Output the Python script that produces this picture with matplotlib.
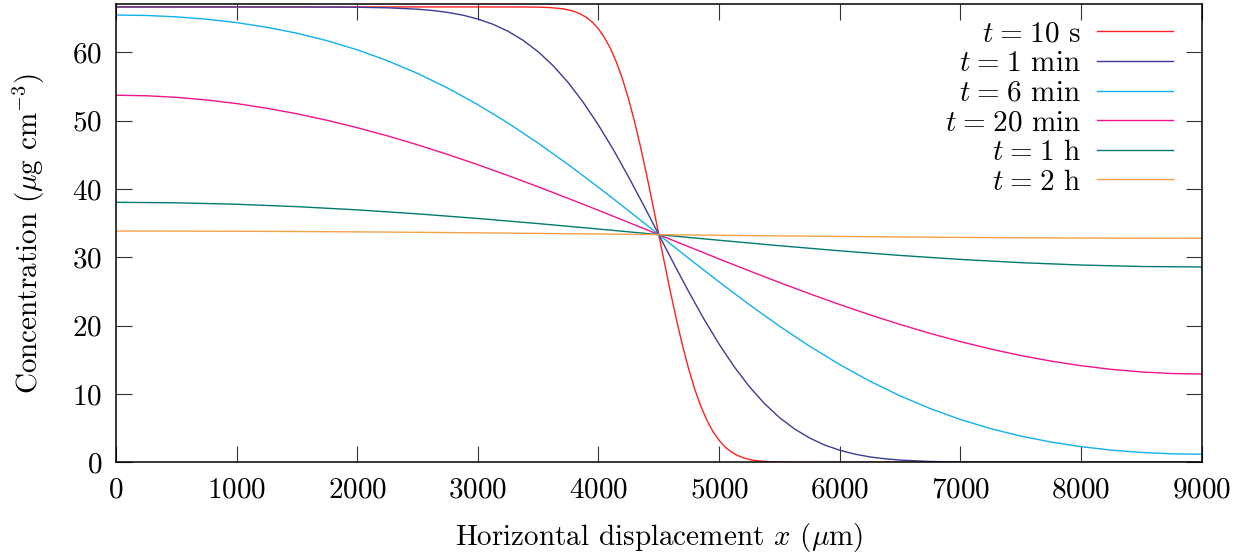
import numpy as np
import matplotlib
matplotlib.use('Agg')
import matplotlib.pyplot as plt

plt.rcParams['font.family'] = 'serif'
plt.rcParams['font.serif'] = ['cmr10']
plt.rcParams['mathtext.fontset'] = 'cm'
plt.rcParams['axes.formatter.use_mathtext'] = True
plt.rcParams['font.size'] = 21

# concentration profiles (ug cm^-3) across the channel, x in um
x_10s = [0, 3000, 3400, 3500, 3600, 3700, 3750, 3800, 3850, 3900, 3950, 4000, 4050, 4100,
         4150, 4200, 4250, 4300, 4350, 4400, 4450, 4500, 4550, 4600, 4650, 4700, 4750,
         4800, 4850, 4900, 4950, 5000, 5050, 5100, 5150, 5200, 5250, 5300, 5400, 5500,
         5600, 6000, 9000]
c_10s = [66.667, 66.667, 66.66, 66.638, 66.575, 66.407, 66.246, 66.005, 65.644, 65.137,
         64.423, 63.449, 62.183, 60.553, 58.517, 56.060, 53.143, 49.800, 46.073, 42.017,
         37.736, 33.333, 28.930, 24.650, 20.593, 16.867, 13.523, 10.607, 8.150, 6.114,
         4.484, 3.216, 2.243, 1.530, 1.023, 0.662, 0.421, 0.260, 0.092, 0.029, 0.008,
         0.0, 0.0]

x_1min = [0, 1000, 1500, 1750, 2000, 2250, 2500, 2625, 2750, 2875, 3000, 3125, 3250, 3375,
          3500, 3625, 3750, 3875, 4000, 4125, 4250, 4375, 4500, 4625, 4750, 4875, 5000,
          5125, 5250, 5375, 5500, 5625, 5750, 5875, 6000, 6125, 6250, 6375, 6500, 6750,
          7000, 7250, 7500, 8000, 9000]
c_1min = [66.667, 66.667, 66.663, 66.655, 66.625, 66.545, 66.34, 66.149, 65.87, 65.467,
          64.90, 64.136, 63.11, 61.777, 60.11, 58.047, 55.57, 52.666, 49.36, 45.720,
          41.76, 37.606, 33.333, 29.060, 24.91, 20.947, 17.30, 14.001, 11.10, 8.620,
          6.56, 4.889, 3.56, 2.530, 1.77, 1.200, 0.79, 0.518, 0.33, 0.122, 0.042, 0.012,
          0.004, 0.0, 0.0]

x_fine = list(range(0, 9001, 250))
c_6min = [65.488, 65.422, 65.221, 64.876, 64.373, 63.696, 62.821, 61.728, 60.393, 58.800,
          56.932, 54.784, 52.358, 49.665, 46.728, 43.579, 40.262, 36.828, 33.333,
          29.839, 26.405, 23.088, 19.939, 17.002, 14.309, 11.883, 9.735, 7.867, 6.274,
          4.939, 3.846, 2.971, 2.294, 1.791, 1.446, 1.245, 1.179]
c_20min = [53.743, 53.666, 53.436, 53.053, 52.521, 51.844, 51.026, 50.073, 48.993, 47.793,
           46.482, 45.070, 43.568, 41.986, 40.337, 38.635, 36.891, 35.119, 33.333,
           31.548, 29.776, 28.032, 26.330, 24.681, 23.099, 21.597, 20.185, 18.874,
           17.674, 16.594, 15.641, 14.823, 14.146, 13.614, 13.231, 13.001, 12.924]

x_coarse = list(range(0, 9001, 500))
c_1h = [38.067, 37.995, 37.781, 37.433, 36.959, 36.376, 35.700, 34.952, 34.155, 33.333,
        32.511, 31.714, 30.966, 30.290, 29.707, 29.233, 28.885, 28.671, 28.599]
c_2h = [33.861, 33.853, 33.829, 33.790, 33.738, 33.672, 33.597, 33.514, 33.425, 33.333,
        33.242, 33.152, 33.070, 32.995, 32.929, 32.876, 32.837, 32.813, 32.805]

fig = plt.figure(figsize=(12.52, 5.56), dpi=100)
ax = fig.add_axes([0.0927, 0.1685, 0.8670, 0.8243])

eq = r'\hspace{0.08}=\hspace{0.08}'
ax.plot(x_10s, c_10s, color='#ff2020', lw=1.0, label=r'$t' + eq + r'10$ s')
ax.plot(x_1min, c_1min, color='#3c3c98', lw=1.0, label=r'$t' + eq + r'1$ min')
ax.plot(x_fine, c_6min, color='#10b0ef', lw=1.0, label=r'$t' + eq + r'6$ min')
ax.plot(x_fine, c_20min, color='#f0148c', lw=1.0, label=r'$t' + eq + r'20$ min')
ax.plot(x_coarse, c_1h, color='#007b70', lw=1.0, label=r'$t' + eq + r'1$ h')
ax.plot(x_coarse, c_2h, color='#f8a048', lw=1.0, label=r'$t' + eq + r'2$ h')

ax.set_xlim(0, 9000)
ax.set_ylim(0, 67.1)
ax.set_xticks(np.arange(0, 9001, 1000))
ax.set_yticks(np.arange(0, 61, 10))
ax.tick_params(direction='in', length=11.5, width=0.8, color='#333333',
               top=True, right=True, pad=10)
ax.tick_params(axis='x', pad=11)
for s in ax.spines.values():
    s.set_linewidth(1.1)

ax.set_xlabel(r'Horizontal displacement $x$ ($\mu$m)', labelpad=12)
ax.set_ylabel(r'Concentration ($\mu$g cm$^{-3}$)', labelpad=18)

ax.legend(loc='upper right', bbox_to_anchor=(1173 / 1252, 0.962),
          bbox_transform=fig.transFigure, frameon=False, markerfirst=False,
          handlelength=2.6, handletextpad=0.55, labelspacing=0.11,
          borderpad=0, borderaxespad=0)

fig.savefig('out.png', dpi=100)
